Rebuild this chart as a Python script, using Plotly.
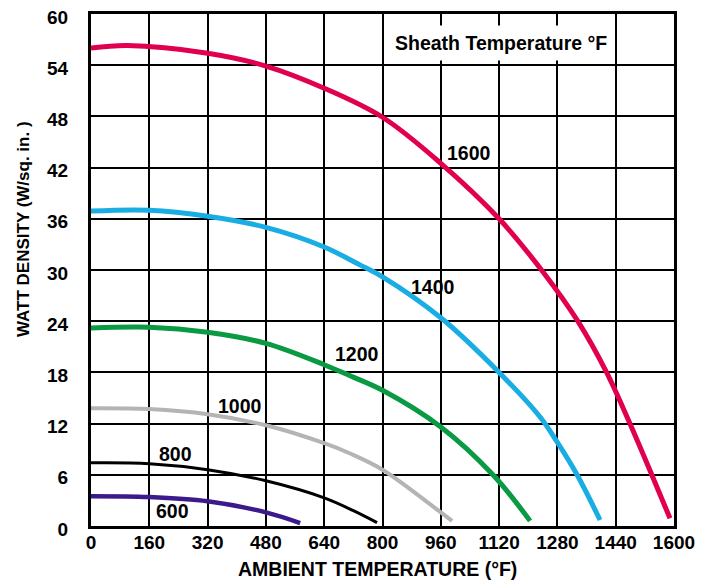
import plotly.graph_objects as go

# ---- data ----
sheath_labels = ["1600", "1400", "1200", "1000", "800", "600"]
colors = ["#E0004F", "#1AADE4", "#0A9A44", "#B4B4B4", "#000000", "#3D1A8C"]
widths = [5, 5, 5, 4, 3, 4.5]

x1600 = [0, 100, 320, 480, 640, 800, 960, 1120, 1240, 1336, 1415, 1479, 1539, 1589]
y1600 = [56.0, 56.3, 55.4, 53.9, 51.3, 47.9, 42.5, 36.0, 29.8, 24.0, 18.0, 12.0, 6.0, 0.9]

x1400 = [0, 160, 320, 480, 640, 738, 800, 960, 1120, 1232, 1280, 1334, 1397]
y1400 = [36.9, 37.0, 36.3, 35.0, 32.7, 30.6, 29.2, 24.4, 18.0, 12.8, 9.8, 6.0, 0.7]

x1200 = [0, 160, 320, 480, 640, 711, 800, 960, 1103, 1205]
y1200 = [23.2, 23.3, 22.7, 21.4, 18.9, 17.6, 15.9, 11.6, 6.0, 0.6]

x1000 = [0, 160, 320, 480, 640, 711, 800, 960, 991]
y1000 = [13.8, 13.7, 13.1, 11.8, 9.7, 8.5, 6.6, 1.6, 0.6]

x800 = [0, 160, 320, 480, 640, 720, 785]
y800 = [7.4, 7.3, 6.6, 5.3, 3.3, 1.8, 0.4]

x600 = [0, 160, 320, 480, 574]
y600 = [3.5, 3.4, 2.9, 1.6, 0.35]

# curve label positions (data coords)
label_x = [1037, 939, 730, 409, 233, 223]
label_y = [43.7, 28.0, 20.2, 14.1, 8.4, 1.8]

x_ticks = list(range(0, 1601, 160))
y_ticks = list(range(0, 61, 6))

series_x = [x1600, x1400, x1200, x1000, x800, x600]
series_y = [y1600, y1400, y1200, y1000, y800, y600]

FONT = "Liberation Sans, Arial, sans-serif"

fig = go.Figure()
for name, xs, ys, c, w in zip(sheath_labels, series_x, series_y, colors, widths):
    fig.add_trace(go.Scatter(x=xs, y=ys, mode="lines", name=name,
                             line=dict(color=c, width=w, shape="spline", smoothing=1.0),
                             showlegend=False, hoverinfo="skip"))

for name, lx, ly in zip(sheath_labels, label_x, label_y):
    fig.add_annotation(x=lx, y=ly, text=name, showarrow=False,
                       xanchor="center", yanchor="middle",
                       font=dict(family=FONT, size=19.5, color="black", weight="bold"))

fig.add_annotation(x=1125, y=56.6, text="Sheath Temperature \u00b0F", showarrow=False,
                   xanchor="center", yanchor="middle",
                   bgcolor="white", borderpad=6,
                   font=dict(family=FONT, size=19.5, color="black", weight="bold"))

fig.add_annotation(xref="paper", yref="paper", x=0.4906, y=-0.084,
                   xanchor="center", yanchor="middle",
                   text="AMBIENT TEMPERATURE (\u00b0F)", showarrow=False,
                   font=dict(family=FONT, size=19.5, color="black", weight="bold"))
fig.add_annotation(xref="paper", yref="paper", x=-0.1166, y=0.58,
                   xanchor="center", yanchor="middle",
                   text="WATT DENSITY (W/sq. in. )", showarrow=False, textangle=-90,
                   font=dict(family=FONT, size=17, color="black", weight="bold"))

fig.update_xaxes(range=[0, 1600], tickvals=x_ticks, ticktext=[str(v) for v in x_ticks],
                 showgrid=True, gridcolor="black", gridwidth=2,
                 showline=True, linecolor="black", linewidth=3, mirror=True,
                 zeroline=False, ticks="", ticklabelstandoff=-3, automargin=False,
                 ticklabeloverflow="allow",
                 tickfont=dict(family=FONT, size=19, color="black", weight="bold"))
fig.update_yaxes(range=[0, 60], tickvals=y_ticks, ticktext=[str(v) for v in y_ticks],
                 showgrid=True, gridcolor="black", gridwidth=2,
                 showline=True, linecolor="black", linewidth=3, mirror=True,
                 zeroline=False, ticks="", ticklabelstandoff=16, ticklabelshift=3,
                 automargin=False, ticklabeloverflow="allow",
                 tickfont=dict(family=FONT, size=19, color="black", weight="bold"))

# page body has an 8px margin, so the figure is sized/offset to land where the reference is
fig.update_layout(template="none", width=705, height=572,
                  margin=dict(l=83, r=39, t=6, b=54, autoexpand=False),
                  plot_bgcolor="white", paper_bgcolor="white")

fig.write_html("out.html")
